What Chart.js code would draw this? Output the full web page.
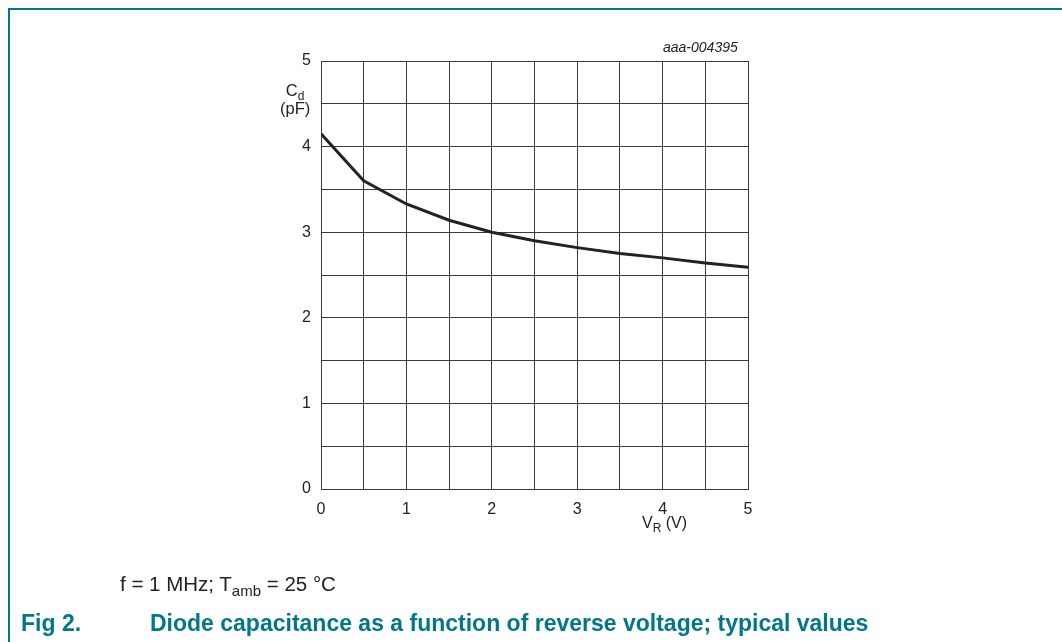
<!DOCTYPE html>
<html>
<head>
<meta charset="utf-8">
<script src="https://cdn.jsdelivr.net/npm/chart.js@4.4.1/dist/chart.umd.min.js"></script>
<style>
    body { margin: 0; background: #fff; font-family: "Liberation Sans", Arial, sans-serif; }
    #wrap { position: relative; width: 1062px; height: 642px; overflow: hidden; }
    #frame { position: absolute; left: 8px; top: 8px; width: 1100px; height: 700px;
             border-left: 2px solid #00788a; border-top: 2px solid #00788a; }
    canvas { position: absolute; left: 0; top: 0; }
    .txt { position: absolute; color: #222; font-size: 16px; white-space: nowrap; }
    .txt sub { font-size: 12px; vertical-align: -4px; line-height: 0; }
    .cap { position: absolute; color: #00788a; font-size: 23px; font-weight: bold; white-space: nowrap; }
</style>
</head>
<body>
<div id="wrap">
    <div id="frame"></div>
    <canvas id="capChart" width="1062" height="642"></canvas>
    <div class="txt" style="left:280px; top:81px; text-align:center; line-height:18px; font-size:16.5px;">C<sub>d</sub><br>(pF)</div>
    <div class="txt" style="left:642px; top:514px;">V<sub>R</sub> (V)</div>
    <div class="txt" style="left:663px; top:39px; font-style:italic; font-size:14px;">aaa-004395</div>
    <div class="txt" style="left:120px; top:572px; font-size:20.5px;">f = 1 MHz; T<sub style="font-size:15px; vertical-align:-5px;">amb</sub> = 25 °C</div>
    <div class="cap" style="left:21px; top:610px;">Fig 2.</div>
    <div class="cap" style="left:150px; top:610px;">Diode capacitance as a function of reverse voltage; typical values</div>
</div>
<script>
// reverse voltage (V) and diode capacitance (pF)
const voltage = [0, 0.5, 1, 1.5, 2, 2.5, 3, 3.5, 4, 4.5, 5];
const capacitance = [4.15, 3.6, 3.33, 3.14, 3.0, 2.9, 2.82, 2.75, 2.7, 2.64, 2.59];
const xTickLabels = ['0', '1', '2', '3', '4', '5'];
const yTickLabels = ['0', '1', '2', '3', '4', '5'];

const gridColor = '#3a3a3a';
const tickFont = { family: 'Liberation Sans', size: 16 };

const ctx = document.getElementById('capChart').getContext('2d');
const capChart = new Chart(ctx, {
    type: 'line',
    data: {
        datasets: [{
            data: voltage.map((v, i) => ({ x: v, y: capacitance[i] })),
            borderColor: '#222',
            borderWidth: 3,
            pointRadius: 0,
            tension: 0,
            fill: false
        }]
    },
    options: {
        responsive: false,
        animation: false,
        layout: { padding: { left: 271, top: 61, right: 314, bottom: 103 } },
        plugins: { legend: { display: false }, tooltip: { enabled: false } },
        scales: {
            x: {
                type: 'linear',
                min: 0,
                max: 5,
                afterFit: function (scale) { scale.height = 50; },
                grid: { color: gridColor, lineWidth: 1, drawTicks: false },
                border: { color: gridColor, width: 1 },
                ticks: {
                    stepSize: 0.5,
                    autoSkip: false,
                    maxRotation: 0,
                    padding: 11,
                    color: '#222',
                    font: tickFont,
                    callback: function (value) {
                        return Number.isInteger(value) ? xTickLabels[value] : '';
                    }
                }
            },
            y: {
                type: 'linear',
                min: 0,
                max: 5,
                afterFit: function (scale) { scale.width = 50; },
                grid: { color: gridColor, lineWidth: 1, drawTicks: false },
                border: { color: gridColor, width: 1 },
                ticks: {
                    stepSize: 0.5,
                    autoSkip: false,
                    padding: 10,
                    color: '#222',
                    font: tickFont,
                    callback: function (value) {
                        return Number.isInteger(value) ? yTickLabels[value] : '';
                    }
                }
            }
        }
    }
});
</script>
</body>
</html>
